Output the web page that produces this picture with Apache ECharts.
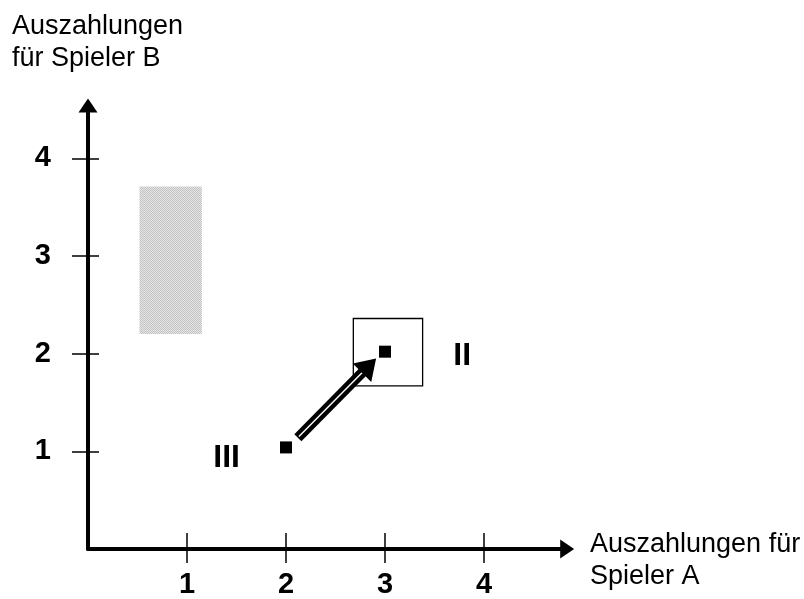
<!DOCTYPE html>
<html>
<head>
<meta charset="utf-8">
<script src="https://cdn.jsdelivr.net/npm/echarts@6/dist/echarts.min.js"></script>
<style>html,body{margin:0;padding:0;background:#fff}#c{width:804px;height:599px}</style>
</head>
<body>
<div id="c"></div>
<script>
const xTicks = [1, 2, 3, 4];
const yTicks = [1, 2, 3, 4];
const xTitle = 'Auszahlungen für\nSpieler A';
const yTitle = 'Auszahlungen\nfür Spieler B';
const points = [[2.0, 1.04], [3.0, 2.02]];
const grayRegion = [0.52, 2.2, 1.15, 3.71];   // x1, y1, x2, y2
const boxRegion = [2.68, 1.67, 3.38, 2.36];    // x1, y1, x2, y2
const arrowMove = [2.12, 1.14, 2.91, 1.95];    // from x, y, to x, y
const regionLabels = [
  { name: 'II', value: [3.78, 1.975] },
  { name: 'III', value: [1.40, 0.925] }
];

const FONT = 'Liberation Sans, Arial, sans-serif';

// halftone-like pattern for the shaded region
const pat = document.createElement('canvas');
pat.width = 2; pat.height = 2;
const pctx = pat.getContext('2d');
pctx.fillStyle = '#e6e6e6'; pctx.fillRect(0, 0, 2, 2);
pctx.fillStyle = '#c2c2c2'; pctx.fillRect(0, 0, 1, 1); pctx.fillRect(1, 1, 1, 1);

const chart = echarts.init(document.getElementById('c'), null, { renderer: 'canvas' });

const xMax = 4.84, yMax = 4.54;
const unit = 99;
const axisY = 555;

function rectItem(params, api) {
  const p1 = api.coord([api.value(0), api.value(1)]);
  const p2 = api.coord([api.value(2), api.value(3)]);
  return {
    type: 'rect',
    shape: { x: Math.min(p1[0], p2[0]), y: Math.min(p1[1], p2[1]), width: Math.abs(p2[0] - p1[0]), height: Math.abs(p2[1] - p1[1]) },
    style: api.style()
  };
}

const option = {
  animation: false,
  backgroundColor: '#fff',
  grid: { left: 88, top: axisY - yMax * unit, width: xMax * unit, height: yMax * unit, containLabel: false },
  xAxis: [{
    type: 'value', min: 0, max: xMax, interval: 1,
    splitLine: { show: false },
    axisLine: { onZero: false, lineStyle: { color: '#000', width: 4 }, symbol: ['none', 'triangle'], symbolSize: [19, 14] },
    axisTick: { show: true, length: 14, customValues: xTicks, lineStyle: { color: '#000', width: 1.5 } },
    axisLabel: { customValues: xTicks, margin: 21, color: '#000', fontSize: 29, fontWeight: 'bold', fontFamily: FONT }
  }, {
    type: 'value', min: 0, max: xMax, interval: 1, position: 'bottom',
    splitLine: { show: false },
    axisLine: { show: false },
    axisTick: { show: true, inside: true, length: 16, customValues: xTicks, lineStyle: { color: '#000', width: 1.5 } },
    axisLabel: { show: false }
  }],
  yAxis: [{
    type: 'value', min: 0, max: yMax, interval: 1,
    splitLine: { show: false },
    axisLine: { onZero: false, lineStyle: { color: '#000', width: 4 }, symbol: ['none', 'triangle'], symbolSize: [19, 14] },
    axisTick: { show: true, length: 16, customValues: yTicks, lineStyle: { color: '#000', width: 1.5 } },
    axisLabel: { customValues: yTicks, margin: 37, color: '#000', fontSize: 29, fontWeight: 'bold', fontFamily: FONT }
  }, {
    type: 'value', min: 0, max: yMax, interval: 1, position: 'left',
    splitLine: { show: false },
    axisLine: { show: false },
    axisTick: { show: true, inside: true, length: 11, customValues: yTicks, lineStyle: { color: '#000', width: 1.5 } },
    axisLabel: { show: false }
  }],
  graphic: [
    { type: 'text', left: 12, top: 11, style: { text: yTitle, font: '27px ' + FONT, fill: '#000', lineHeight: 32 } },
    { type: 'text', left: 590, top: 529, style: { text: xTitle, font: '27px ' + FONT, fill: '#000', lineHeight: 32 } }
  ],
  series: [
    {
      type: 'custom', name: 'shaded', z: 1,
      data: [grayRegion],
      renderItem: rectItem,
      itemStyle: { color: { image: pat, repeat: 'repeat' }, opacity: 1 }
    },
    {
      type: 'custom', name: 'box', z: 2,
      data: [boxRegion],
      renderItem: function (params, api) {
        const r = rectItem(params, api);
        r.style = { fill: 'none', stroke: '#000', lineWidth: 1.3 };
        return r;
      }
    },
    {
      type: 'scatter', name: 'points', z: 5,
      data: points, symbol: 'rect', symbolSize: 12,
      itemStyle: { color: '#000', opacity: 1 }
    },
    {
      type: 'custom', name: 'move', z: 4,
      data: [arrowMove],
      renderItem: function (params, api) {
        const a = api.coord([api.value(0), api.value(1)]);
        const b = api.coord([api.value(2), api.value(3)]);
        const dx = b[0] - a[0], dy = b[1] - a[1];
        const len = Math.sqrt(dx * dx + dy * dy);
        const ux = dx / len, uy = dy / len;
        const nx = -uy, ny = ux;
        const L = 20, W = 13;
        const base = [b[0] - ux * L, b[1] - uy * L];
        return {
          type: 'group',
          children: [
            { type: 'line', shape: { x1: a[0], y1: a[1], x2: base[0] + ux * 3, y2: base[1] + uy * 3 }, style: { stroke: '#000', lineWidth: 10, lineCap: 'butt' } },
            { type: 'line', shape: { x1: a[0] + ux * 1.5, y1: a[1] + uy * 1.5, x2: base[0], y2: base[1] }, style: { stroke: '#fff', lineWidth: 1.4, lineCap: 'butt' } },
            { type: 'polygon', shape: { points: [[b[0], b[1]], [base[0] + nx * W, base[1] + ny * W], [base[0] - nx * W, base[1] - ny * W]] }, style: { fill: '#000' } }
          ]
        };
      }
    },
    {
      type: 'scatter', name: 'labels', z: 6,
      data: regionLabels, symbolSize: 0,
      itemStyle: { opacity: 1 },
      label: { show: true, position: 'inside', formatter: '{b}', color: '#000', opacity: 1, fontSize: 32, fontWeight: 'bold', fontFamily: FONT }
    }
  ]
};
chart.setOption(option);
</script>
</body>
</html>
